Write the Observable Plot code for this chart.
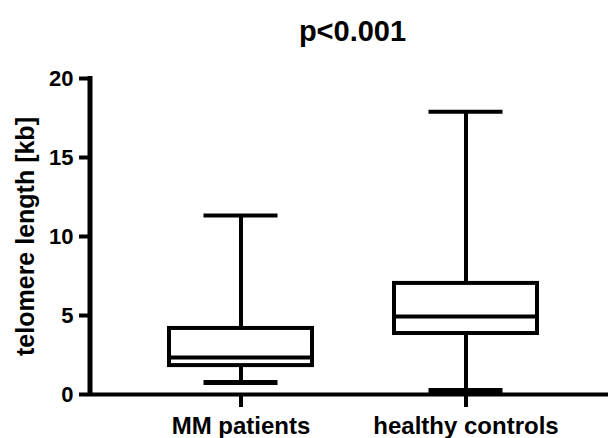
<!DOCTYPE html>
<html><head><meta charset="utf-8">
<script src="https://cdn.jsdelivr.net/npm/d3@7"></script>
<script src="https://cdn.jsdelivr.net/npm/@observablehq/plot@0.6"></script>
<style>
body{margin:0;background:#fff;}
svg{font-family:"Liberation Sans",Arial,sans-serif;}
</style>
</head><body><div id="chart"></div>
<script>
const groups = ["MM patients", "healthy controls"];
const whiskerLow = [0.76, 0.25];
const q1 = [1.83, 3.86];
const median = [2.34, 4.94];
const q3 = [4.18, 7.03];
const whiskerHigh = [11.33, 17.9];
const yTicks = [0, 5, 10, 15, 20];
const title = "p<0.001";
const yLabel = "telomere length [kb]";

const data = groups.map((g, i) => ({g, lo: whiskerLow[i], q1: q1[i], med: median[i], q3: q3[i], hi: whiskerHigh[i]}));

const chart = Plot.plot({
  width: 611, height: 438,
  marginLeft: 90, marginRight: 3, marginTop: 78, marginBottom: 44,
  style: {fontFamily: "'Liberation Sans', Arial, sans-serif", background: "#fff", overflow: "visible"},
  x: {domain: groups, padding: 0.302, align: 0.53, label: null},
  y: {domain: [0, 20], label: null},
  marks: [
    Plot.ruleX(data, {x: "g", y1: "lo", y2: "hi", stroke: "black", strokeWidth: 4}),
    Plot.barY(data, {x: "g", y1: "q1", y2: "q3", fill: "white", stroke: "black", strokeWidth: 4, insetLeft: 7, insetRight: 7}),
    Plot.tickY(data, {x: "g", y: "med", stroke: "black", strokeWidth: 4, insetLeft: 5, insetRight: 5}),
    Plot.tickY(data, {x: "g", y: "hi", stroke: "black", strokeWidth: 4, insetLeft: 41.5, insetRight: 41.5}),
    Plot.tickY(data, {x: "g", y: "lo", stroke: "black", strokeWidth: 5, insetLeft: 41.5, insetRight: 41.5}),
    Plot.ruleY([0], {stroke: "black", strokeWidth: 4}),
    Plot.axisY({ticks: yTicks, tickSize: 11, tickPadding: 6, tickFormat: d => String(d), fontSize: 22, fontWeight: "bold", strokeWidth: 4, label: null}),
    Plot.axisX({tickSize: 13, tickPadding: 9, fontSize: 24, fontWeight: "bold", strokeWidth: 4, label: null}),
    Plot.text([yLabel], {frameAnchor: "left", dx: -65, rotate: -90, textAnchor: "middle", lineAnchor: "middle", fontSize: 25, fontWeight: "bold", fill: "black"}),
    Plot.text([title], {frameAnchor: "top", dy: -47, dx: 3, lineAnchor: "middle", fontSize: 29, fontWeight: "bold", fill: "black"})
  ]
});
// y axis line drawn from the chart's own scales
const ys = chart.scale("y"), xs = chart.scale("x");
const x0 = xs.range[0];
const ya = ys.apply(ys.domain[0]), yb = ys.apply(ys.domain[1]);
d3.select(chart).append("rect")
  .attr("x", x0 - 2.5).attr("width", 5)
  .attr("y", yb - 2).attr("height", ya - yb + 4)
  .attr("fill", "#000");
document.getElementById("chart").appendChild(chart);
</script></body></html>
